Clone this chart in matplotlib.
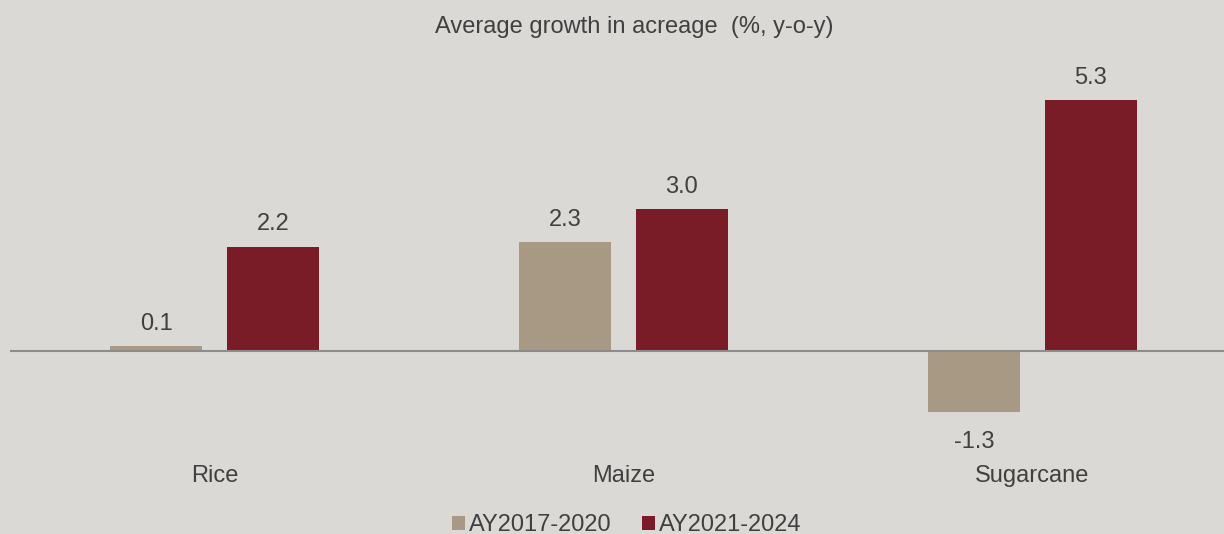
import numpy as np
import matplotlib.pyplot as plt
from matplotlib.patches import Patch

plt.rcParams['font.family'] = ['Liberation Sans', 'DejaVu Sans']

# data
crops = ['Rice', 'Maize', 'Sugarcane']
ay_2017_2020 = [0.1, 2.3, -1.3]
ay_2021_2024 = [2.2, 3.0, 5.3]
series_names = ['AY2017-2020', 'AY2021-2024']

BG = '#DAD9D5'
TAN = '#A89985'
RED = '#7A1C28'
TXT = '#404040'

fig = plt.figure(figsize=(12.24, 5.34), dpi=100, facecolor=BG)
W, H = 1224, 534
ax = fig.add_axes([10 / W, 1 - 469 / H, (W - 10) / W, (469 - 67) / H])
ax.set_facecolor(BG)

x = np.arange(len(crops))
width = 0.225
offset = 0.1425

b1 = ax.bar(x - offset, ay_2017_2020, width, color=TAN, zorder=2)
b2 = ax.bar(x + offset, ay_2021_2024, width, color=RED, zorder=2)

ax.set_xlim(-0.5, 2.468)
ax.set_ylim(-2.5, 6.0)
ax.axhline(0, color='#8C8C8C', lw=1.5, zorder=3)

# value labels
for bars, vals in [(b1, ay_2017_2020), (b2, ay_2021_2024)]:
    for rect, v in zip(bars, vals):
        cx = rect.get_x() + rect.get_width() / 2
        dy = 11.7 if v >= 0 else -26
        ax.annotate(f'{v:.1f}', (cx, v), xytext=(0, dy), textcoords='offset points',
                    ha='center', va='baseline', fontsize=17, color=TXT)

# category labels, baseline about 131 px below the zero line
label_y = -(482 - 351) / 47.36
for xi, name in zip(x, crops):
    ax.text(xi, label_y, name, ha='center', va='baseline',
            fontsize=17, color=TXT, clip_on=False)

for s in ax.spines.values():
    s.set_visible(False)
ax.set_xticks([])
ax.set_yticks([])

fig.text(634 / W, 1 - 33 / H, 'Average growth in acreage  (%, y-o-y)', ha='center',
         va='baseline', fontsize=17, color=TXT)

handles = [Patch(facecolor=TAN), Patch(facecolor=RED)]
fig.legend(handles, series_names, loc='center', bbox_to_anchor=(627 / W, 1 - 525 / H),
           ncol=2, frameon=False, fontsize=17, labelcolor=TXT,
           handlelength=0.55, handleheight=0.55, handletextpad=0.17,
           columnspacing=1.27, borderpad=0)

fig.savefig('out.png', dpi=100, facecolor=BG)
